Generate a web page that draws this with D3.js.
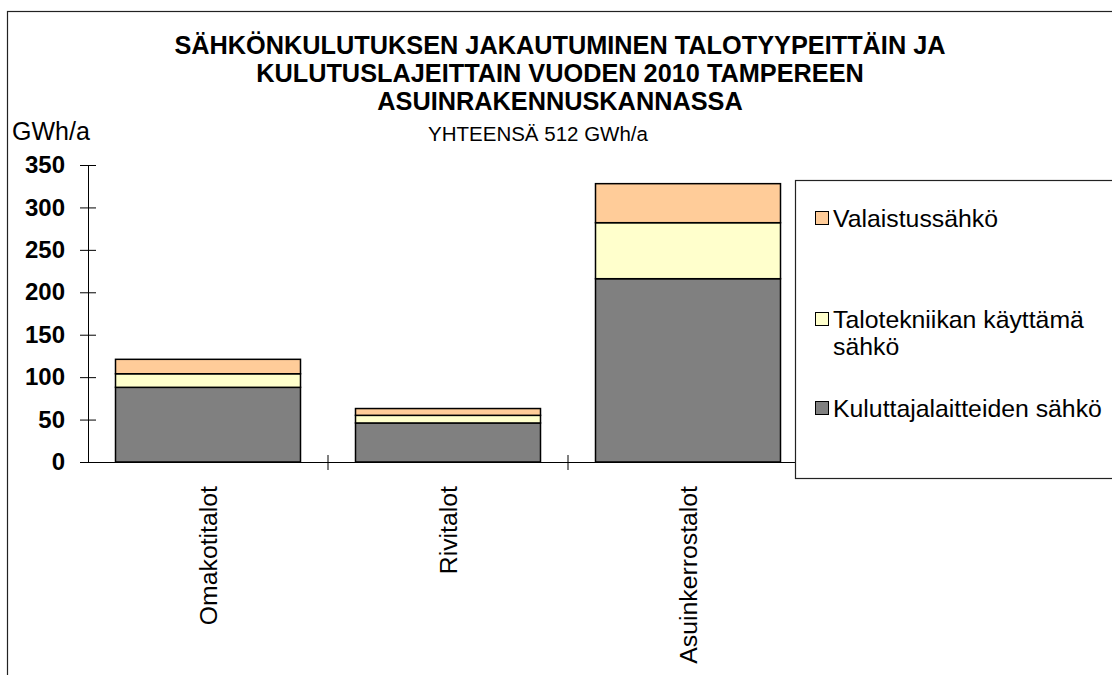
<!DOCTYPE html>
<html>
<head>
<meta charset="utf-8">
<script src="https://cdn.jsdelivr.net/npm/d3@7"></script>
<style>
    body { margin: 0; background: #fff; }
    svg { font-family: "Liberation Sans", Arial, sans-serif; }
</style>
</head>
<body>
<script>
var categories = ["Omakotitalot", "Rivitalot", "Asuinkerrostalot"];
var kuluttaja = [88, 46, 216];
var talotekniikka = [16, 9, 66];
var valaistus = [17, 8, 46];
var yTicks = [0, 50, 100, 150, 200, 250, 300, 350];
var seriesNames = ["Kuluttajalaitteiden sähkö", "Talotekniikan käyttämä sähkö", "Valaistussähkö"];
var titleLines = ["SÄHKÖNKULUTUKSEN JAKAUTUMINEN TALOTYYPEITTÄIN JA",
    "KULUTUSLAJEITTAIN VUODEN 2010 TAMPEREEN",
    "ASUINRAKENNUSKANNASSA"];

var w = 1112;
var h = 675;

var svg = d3.select("body")
    .append("svg")
    .attr("width", w)
    .attr("height", h);

// outer chart frame (runs off the right and bottom)
svg.append("rect")
    .attr("x", 7.5)
    .attr("y", 11.5)
    .attr("width", 1300)
    .attr("height", 900)
    .attr("fill", "#fff")
    .attr("stroke", "#222")
    .attr("stroke-width", 1.2);

// table built from the arrays
var rows = categories.map(function (c, i) {
    return { cat: c, k: kuluttaja[i], t: talotekniikka[i], v: valaistus[i] };
});
var keys = ["k", "t", "v"];
var colors = { k: "#808080", t: "#FFFFCC", v: "#FFCC99" };
var stacked = d3.stack().keys(keys)(rows);

var xScale = d3.scaleBand()
    .domain(categories)
    .range([88, 808])
    .paddingInner(55 / 240)
    .paddingOuter(27.5 / 240);

var yScale = d3.scaleLinear()
    .domain([0, 350])
    .range([462, 165]);

// title
svg.append("g").selectAll("text")
    .data(titleLines)
    .enter()
    .append("text")
    .attr("x", 560)
    .attr("y", function (d, i) { return 54 + i * 28; })
    .attr("text-anchor", "middle")
    .attr("font-size", "25.3px")
    .attr("font-weight", "bold")
    .text(function (d) { return d; });

svg.append("text")
    .attr("x", 538)
    .attr("y", 141)
    .attr("text-anchor", "middle")
    .attr("font-size", "20.5px")
    .text("YHTEENSÄ 512 GWh/a");

svg.append("text")
    .attr("x", 12)
    .attr("y", 140)
    .attr("font-size", "25px")
    .text("GWh/a");

// bars
svg.append("g")
    .selectAll("g")
    .data(stacked)
    .enter()
    .append("g")
    .attr("fill", function (d) { return colors[d.key]; })
    .selectAll("rect")
    .data(function (d) { return d; })
    .enter()
    .append("rect")
    .attr("x", function (d) { return xScale(d.data.cat); })
    .attr("y", function (d) { return yScale(d[1]); })
    .attr("width", xScale.bandwidth())
    .attr("height", function (d) { return yScale(d[0]) - yScale(d[1]); })
    .attr("stroke", "#000")
    .attr("stroke-width", 1.5);

// y axis
var yAxis = d3.axisLeft()
    .scale(yScale)
    .tickValues(yTicks)
    .tickSizeOuter(0)
    .tickSizeInner(8);

var gy = svg.append("g")
    .attr("transform", "translate(88,0)")
    .call(yAxis);
gy.select(".domain").attr("stroke", "#000");
gy.selectAll(".tick line").attr("x1", -8).attr("x2", 8).attr("stroke", "#000");
gy.selectAll(".tick text")
    .attr("x", -23)
    .attr("font-size", "24px")
    .attr("font-weight", "bold")
    .attr("font-family", "Liberation Sans, Arial, sans-serif")
    .attr("fill", "#000");

// x axis line + boundary ticks
var xAxis = d3.axisBottom()
    .scale(xScale)
    .tickSize(0)
    .tickFormat("");
var gx = svg.append("g")
    .attr("transform", "translate(0,462)")
    .call(xAxis);
gx.select(".domain").attr("stroke", "#000");
gx.selectAll(".tick").remove();

gx.selectAll("line.sep")
    .data(categories)
    .enter()
    .append("line")
    .attr("class", "sep")
    .attr("x1", function (d) { return xScale(d) + xScale.step() * (1 - xScale.paddingInner() / 2); })
    .attr("x2", function (d) { return xScale(d) + xScale.step() * (1 - xScale.paddingInner() / 2); })
    .attr("y1", -7)
    .attr("y2", 8)
    .attr("stroke", "#000");

// rotated category labels
svg.append("g").selectAll("text")
    .data(categories)
    .enter()
    .append("text")
    .attr("transform", function (d) {
        return "translate(" + (xScale(d) + xScale.bandwidth() / 2) + ",486) rotate(-90)";
    })
    .attr("dy", "0.36em")
    .attr("text-anchor", "end")
    .attr("font-size", "24.8px")
    .text(function (d) { return d; });

// legend
var legend = svg.append("g");
legend.append("rect")
    .attr("x", 795.5)
    .attr("y", 180.5)
    .attr("width", 400)
    .attr("height", 298)
    .attr("fill", "#fff")
    .attr("stroke", "#222")
    .attr("stroke-width", 1.2);

var legendItems = [
    { key: "v", lines: [seriesNames[2]], y: 227 },
    { key: "t", lines: ["Talotekniikan käyttämä", "sähkö"], y: 328 },
    { key: "k", lines: [seriesNames[0]], y: 417 }
];

legendItems.forEach(function (d) {
    legend.append("rect")
        .attr("x", 815.5)
        .attr("y", d.y - 15.5)
        .attr("width", 13)
        .attr("height", 13)
        .attr("fill", colors[d.key])
        .attr("stroke", "#000")
        .attr("stroke-width", 1);
    d.lines.forEach(function (t, i) {
        legend.append("text")
            .attr("x", 833)
            .attr("y", d.y + i * 27)
            .attr("font-size", "24.8px")
            .text(t);
    });
});
</script>
</body>
</html>
